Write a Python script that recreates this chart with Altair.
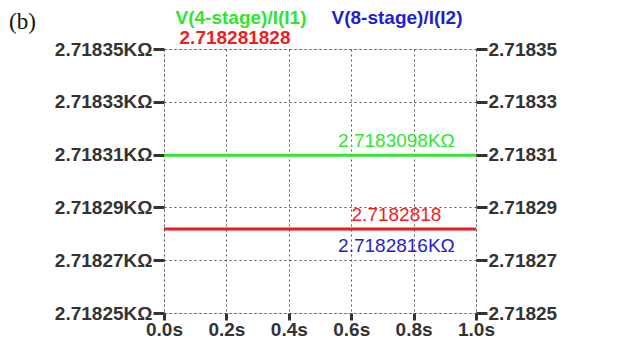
import altair as alt
import pandas as pd

# ---- data ----
times = [0.0, 1.0]
series_names = ["V(8-stage)/I(I2)", "V(4-stage)/I(I1)", "e"]
series_values = [2.7182816, 2.7183098, 2.718281828]  # KΩ
series_colors = ["#1e1ed2", "#2ee62e", "#ee1e1e"]
series_widths = [1, 3, 3]

label_texts = ["2.7183098KΩ", "2.7182818", "2.7182816KΩ"]
label_values = [2.7183098, 2.718281828, 2.718281828]
label_colors = ["#2ee62e", "#ee1e1e", "#1e1ed2"]
label_dy = [-14, -14, 17]
label_x = 0.745

header_texts = ["V(4-stage)/I(I1)", "2.718281828", "V(8-stage)/I(I2)"]
header_colors = ["#2ee62e", "#ee1e1e", "#1e1ed2"]
panel_tag = "(b)"

y_ticks = [2.71825, 2.71827, 2.71829, 2.71831, 2.71833, 2.71835]
x_ticks = [0.0, 0.2, 0.4, 0.6, 0.8, 1.0]

FONT = "Liberation Sans"
DARK = "#333333"

rows = []
for n, v, c, w in zip(series_names, series_values, series_colors, series_widths):
    for t in times:
        rows.append({"series": n, "t": t, "v": v, "color": c, "w": w})
lines_df = pd.DataFrame(rows)

labels_df = pd.DataFrame({"text": label_texts, "v": label_values,
                          "color": label_colors, "t": [label_x] * 3})

yscale = alt.Scale(domain=[y_ticks[0], y_ticks[-1]], nice=False, zero=False)
xscale = alt.Scale(domain=[times[0], times[-1]], nice=False)

common_axis = dict(labelFont=FONT, labelFontWeight="bold", labelFontSize=19,
                   labelColor=DARK, tickColor=DARK, tickWidth=3,
                   domain=False, title=None, gridDash=[2, 3], gridColor="#555555",
                   gridWidth=1, gridOpacity=1)

xaxis = alt.Axis(values=x_ticks, labelExpr="format(datum.value, '.1f') + 's'",
                 grid=True, labelPadding=0, tickSize=7, labelFlush=False,
                 **common_axis)
yaxis_left = alt.Axis(values=y_ticks, orient="left",
                      labelExpr="format(datum.value, '.5f') + 'KΩ'",
                      grid=True, labelPadding=1, tickSize=11, **common_axis)
yaxis_right = alt.Axis(values=y_ticks, orient="right",
                       labelExpr="format(datum.value, '.5f')",
                       grid=False, labelPadding=1, tickSize=11, **common_axis)

lines = alt.Chart(lines_df).mark_line().encode(
    x=alt.X("t:Q", scale=xscale, axis=xaxis),
    y=alt.Y("v:Q", scale=yscale, axis=yaxis_left),
    color=alt.Color("color:N", scale=None),
    strokeWidth=alt.StrokeWidth("w:Q", scale=None),
    detail="series:N",
    order=alt.Order("t:Q"),
)

label_layers = []
for i in range(len(label_texts)):
    sub = labels_df.iloc[[i]]
    label_layers.append(
        alt.Chart(sub).mark_text(font=FONT, fontSize=19, dy=label_dy[i],
                                 baseline="middle", align="center").encode(
            x=alt.X("t:Q", scale=xscale, axis=xaxis),
            y=alt.Y("v:Q", scale=yscale, axis=yaxis_right if i == 0 else None),
            text="text:N",
            color=alt.Color("color:N", scale=None),
        )
    )

header_pos = [(77, -31), (71, -11), (233, -31)]
headers = []
for txt, col, (px, py) in zip(header_texts, header_colors, header_pos):
    headers.append(
        alt.Chart(pd.DataFrame({"text": [txt]})).mark_text(
            font=FONT, fontSize=19, fontWeight="bold", color=col,
            align="center", baseline="middle").encode(
            x=alt.value(px), y=alt.value(py), text="text:N")
    )
tag = alt.Chart(pd.DataFrame({"text": [panel_tag]})).mark_text(
    font="Liberation Serif", fontSize=23, color="#111111",
    align="left", baseline="middle").encode(
    x=alt.value(-155), y=alt.value(-27), text="text:N")

chart = alt.layer(lines, *label_layers, *headers, tag).resolve_axis(
    y="independent"
).properties(
    width=312, height=264,
    autosize=alt.AutoSizeParams(type="none"),
    padding={"left": 156, "top": 41, "right": 130, "bottom": 29},
).configure_view(stroke=DARK, strokeWidth=3).configure(background="white")

chart.save("out.html", embed_options={"renderer": "svg", "actions": False})
